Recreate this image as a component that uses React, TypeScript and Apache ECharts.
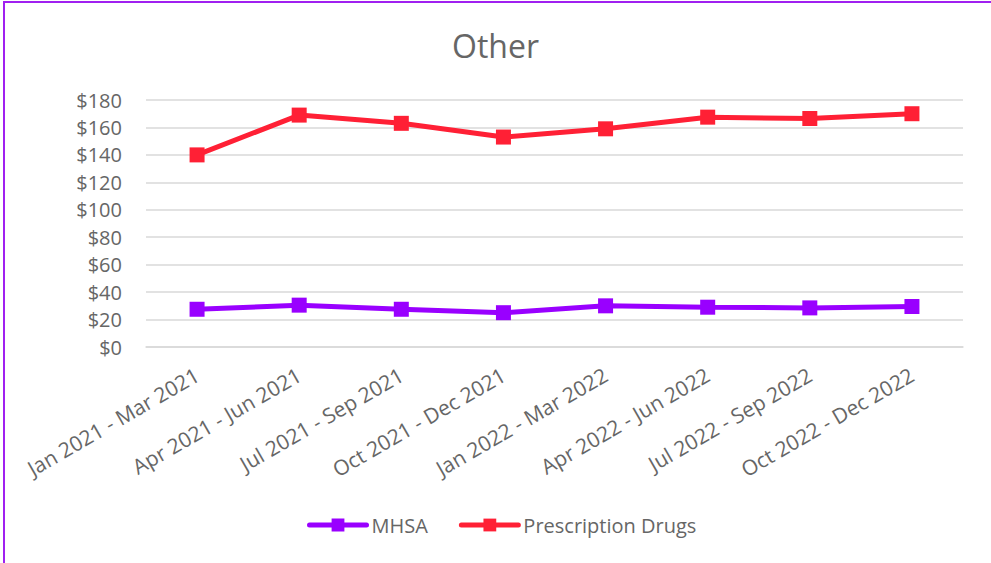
import React, { useEffect, useRef } from "react";
import * as echarts from "echarts";

const categories = [
  "Jan 2021 - Mar 2021",
  "Apr 2021 - Jun 2021",
  "Jul 2021 - Sep 2021",
  "Oct 2021 - Dec 2021",
  "Jan 2022 - Mar 2022",
  "Apr 2022 - Jun 2022",
  "Jul 2022 - Sep 2022",
  "Oct 2022 - Dec 2022",
];
const mhsa = [27.5, 30.5, 27.5, 25, 30, 29, 28.5, 29.5];
const prescriptionDrugs = [140, 169, 163, 153, 159, 167.5, 166.5, 170];
const seriesNames = ["MHSA", "Prescription Drugs"];
const FONT = "'Open Sans', Lato, sans-serif";
const TXT = "#666666";
const PURPLE = "#9900FF";
const RED = "#FF2035";

export default function App() {
  const ref = useRef<HTMLDivElement>(null);
  useEffect(() => {
    if (!ref.current) return;
    const chart = echarts.init(ref.current, undefined, { renderer: "svg" });
    chart.setOption({
      animation: false,
      backgroundColor: "#ffffff",
      title: {
        text: "Other",
        left: "center",
        top: 24,
        textStyle: { fontFamily: FONT, fontSize: 32, fontWeight: "normal", color: TXT },
      },
      graphic: [
        {
          type: "rect",
          shape: { x: 4, y: 2, width: 1100, height: 700 },
          style: { fill: "none", stroke: "#A020F0", lineWidth: 2 },
          silent: true,
        },
      ],
      grid: { left: 146, right: 28, top: 100, bottom: 216 },
      legend: {
        bottom: 23,
        left: 302,
        itemWidth: 57,
        itemHeight: 16,
        itemGap: 31,
        lineStyle: { width: 5, cap: "round" },
        textStyle: { fontFamily: FONT, fontSize: 20, color: TXT, padding: [0, 0, 0, 0] },
        data: seriesNames,
      },
      xAxis: {
        type: "category",
        data: categories,
        boundaryGap: true,
        axisLine: { show: true, lineStyle: { color: "#d9d9d9", width: 1.5 } },
        axisTick: { show: false },
        axisLabel: {
          rotate: 30,
          interval: 0,
          margin: 26,
          fontFamily: FONT,
          fontSize: 21,
          color: TXT,
        },
      },
      yAxis: {
        type: "value",
        min: 0,
        max: 180,
        interval: 20,
        axisLine: { show: false },
        axisTick: { show: false },
        splitLine: { lineStyle: { color: "#d9d9d9", width: 1.5 } },
        axisLabel: {
          margin: 24,
          fontFamily: FONT,
          fontSize: 20,
          color: TXT,
          formatter: (v: number) => "$" + v,
        },
      },
      series: [
        {
          name: seriesNames[0],
          type: "line",
          data: mhsa,
          symbol: "rect",
          symbolSize: 15,
          lineStyle: { color: PURPLE, width: 5 },
          itemStyle: { color: PURPLE },
        },
        {
          name: seriesNames[1],
          type: "line",
          data: prescriptionDrugs,
          symbol: "rect",
          symbolSize: 15,
          lineStyle: { color: RED, width: 5 },
          itemStyle: { color: RED },
        },
      ],
    });
    return () => chart.dispose();
  }, []);
  return (
    <div
      ref={ref}
      style={{ position: "fixed", left: 0, top: 0, width: 991, height: 563 }}
    />
  );
}
